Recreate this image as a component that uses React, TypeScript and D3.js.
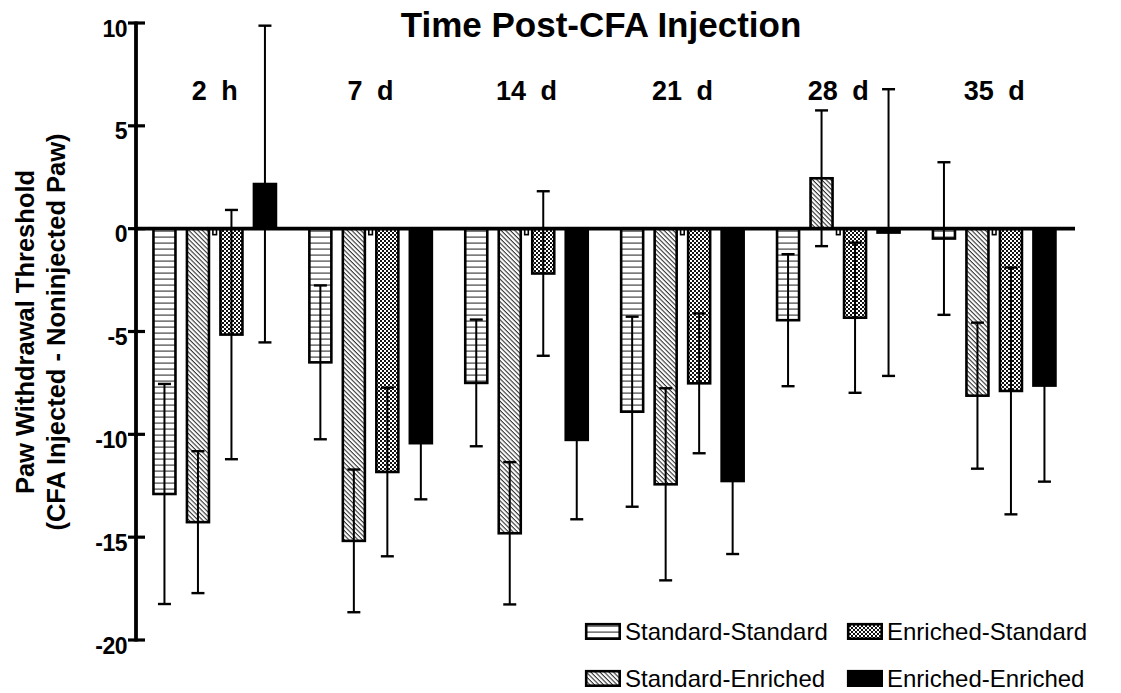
import React, { useEffect, useRef } from 'react';
import * as d3 from 'd3';

// values (threshold difference, mean and SEM)
const timepoints = ['2 h', '7 d', '14 d', '21 d', '28 d', '35 d'];
const groups = ['Standard-Standard', 'Standard-Enriched', 'Enriched-Standard', 'Enriched-Enriched'];
const ssMean = [-12.9, -6.5, -7.5, -8.9, -4.45, -0.48];
const ssErr = [5.35, 3.74, 3.08, 4.62, 3.21, 3.71];
const seMean = [-14.27, -15.18, -14.81, -12.43, 2.45, -8.12];
const seErr = [3.45, 3.47, 3.46, 4.67, 3.3, 3.55];
const esMean = [-5.15, -11.83, -2.18, -7.52, -4.33, -7.89];
const esErr = [6.06, 4.1, 4.0, 3.4, 3.65, 6.0];
const eeMean = [2.17, -10.43, -10.27, -12.27, -0.19, -7.63];
const eeErr = [7.7, 2.73, 3.86, 3.55, 6.97, 4.67];
const yTicks = [10, 5, 0, -5, -10, -15, -20];

const means = [ssMean, seMean, esMean, eeMean];
const errs = [ssErr, seErr, esErr, eeErr];
const fills = ['url(#hlines)', 'url(#diag)', 'url(#checker)', '#000'];

const FONT = '"Liberation Sans", Arial, Helvetica, sans-serif';

const App = () => {
    const svgRef = useRef<SVGSVGElement>(null);

    useEffect(() => {
        const width = 1121;
        const height = 693;

        const svg = d3.select(svgRef.current);
        svg.selectAll('*').remove();
        svg.attr('width', width).attr('height', height);

        // patterns
        const defs = svg.append('defs');
        const hl = defs.append('pattern')
            .attr('id', 'hlines')
            .attr('patternUnits', 'userSpaceOnUse')
            .attr('width', 6).attr('height', 6);
        hl.append('rect').attr('width', 6).attr('height', 6).attr('fill', '#fff');
        hl.append('rect').attr('y', 2.5).attr('width', 6).attr('height', 1.2).attr('fill', '#444');

        const dg = defs.append('pattern')
            .attr('id', 'diag')
            .attr('patternUnits', 'userSpaceOnUse')
            .attr('width', 6).attr('height', 3.2)
            .attr('patternTransform', 'rotate(45)');
        dg.append('rect').attr('width', 6).attr('height', 3.2).attr('fill', '#fff');
        dg.append('rect').attr('width', 6).attr('height', 1.1).attr('fill', '#333');

        const ck = defs.append('pattern')
            .attr('id', 'checker')
            .attr('patternUnits', 'userSpaceOnUse')
            .attr('width', 4).attr('height', 4);
        ck.append('rect').attr('width', 4).attr('height', 4).attr('fill', '#fff');
        ck.append('rect').attr('width', 2).attr('height', 2).attr('fill', '#111');
        ck.append('rect').attr('x', 2).attr('y', 2).attr('width', 2).attr('height', 2).attr('fill', '#111');

        const y = d3.scaleLinear().domain([-20, 10]).range([640, 23]);
        const x0 = d3.scaleBand().domain(timepoints).range([136.75, 1072.15]).padding(0);
        const x1 = d3.scaleBand().domain(groups).range([16.7, 139.2]).paddingInner(0.343).paddingOuter(0);
        const axisX = 136;

        const rows = timepoints.flatMap((t, i) => groups.map((g, k) => ({
            t, g, k, mean: means[k][i], err: errs[k][i],
        })));

        // bars
        svg.append('g').selectAll('rect')
            .data(rows)
            .enter().append('rect')
            .attr('x', d => x0(d.t)! + x1(d.g)!)
            .attr('y', d => Math.min(y(d.mean), y(0)))
            .attr('width', x1.bandwidth())
            .attr('height', d => Math.abs(y(d.mean) - y(0)))
            .attr('fill', d => fills[d.k])
            .attr('stroke', '#000')
            .attr('stroke-width', 2.6);

        // small tab hanging under the baseline between 2nd and 3rd bar
        svg.append('g').selectAll('rect')
            .data(timepoints)
            .enter().append('rect')
            .attr('x', t => (x0(t)! + x1(groups[1])! + x1.bandwidth() + x0(t)! + x1(groups[2])!) / 2 - 1.8)
            .attr('y', y(0))
            .attr('width', 3.6)
            .attr('height', 6)
            .attr('fill', '#fff')
            .attr('stroke', '#000')
            .attr('stroke-width', 1.6);

        // zero line
        svg.append('line')
            .attr('x1', axisX).attr('x2', 1075)
            .attr('y1', y(0)).attr('y2', y(0))
            .attr('stroke', '#000').attr('stroke-width', 3.6);

        // error bars
        const eb = svg.append('g').selectAll('g')
            .data(rows)
            .enter().append('g')
            .attr('transform', d => `translate(${x0(d.t)! + x1(d.g)! + x1.bandwidth() / 2},0)`);
        eb.append('line')
            .attr('y1', d => y(d.mean + d.err))
            .attr('y2', d => y(d.mean - d.err))
            .attr('stroke', '#000').attr('stroke-width', 2);
        eb.append('line')
            .attr('x1', -6.5).attr('x2', 6.5)
            .attr('y1', d => y(d.mean + d.err)).attr('y2', d => y(d.mean + d.err))
            .attr('stroke', '#000').attr('stroke-width', 2.4);
        eb.append('line')
            .attr('x1', -6.5).attr('x2', 6.5)
            .attr('y1', d => y(d.mean - d.err)).attr('y2', d => y(d.mean - d.err))
            .attr('stroke', '#000').attr('stroke-width', 2.4);

        // y axis
        const ax = svg.append('g');
        ax.append('line')
            .attr('x1', axisX).attr('x2', axisX)
            .attr('y1', y(10) - 1.5).attr('y2', y(-20) + 1.5)
            .attr('stroke', '#000').attr('stroke-width', 3.8);
        ax.selectAll('.tick')
            .data(yTicks)
            .enter().append('line')
            .attr('class', 'tick')
            .attr('x1', axisX - 8).attr('x2', axisX + 9)
            .attr('y1', d => y(d)).attr('y2', d => y(d))
            .attr('stroke', '#000').attr('stroke-width', 3.2);
        ax.selectAll('.lbl')
            .data(yTicks)
            .enter().append('text')
            .attr('class', 'lbl')
            .attr('x', axisX - 9)
            .attr('y', d => y(d) + 13.5)
            .attr('text-anchor', 'end')
            .attr('font-family', FONT)
            .attr('font-weight', 'bold')
            .attr('font-size', 23)
            .attr('letter-spacing', -0.5)
            .text(d => d);

        // y title
        const yt = svg.append('g')
            .attr('font-family', FONT)
            .attr('font-weight', 'bold')
            .attr('font-size', 25.5)
            .attr('text-anchor', 'middle');
        yt.append('text')
            .attr('transform', 'translate(33.5,332) rotate(-90)')
            .text('Paw Withdrawal Threshold');
        yt.append('text')
            .attr('transform', 'translate(65,332) rotate(-90)')
            .text('(CFA Injected - Noninjected Paw)');

        // title and time labels
        svg.append('text')
            .attr('x', 601).attr('y', 37)
            .attr('text-anchor', 'middle')
            .attr('font-family', FONT)
            .attr('font-weight', 'bold')
            .attr('font-size', 35)
            .text('Time Post-CFA Injection');

        svg.append('g').selectAll('text')
            .data(timepoints)
            .enter().append('text')
            .attr('x', t => x0(t)! + x0.bandwidth() / 2)
            .attr('y', 100)
            .attr('text-anchor', 'middle')
            .attr('font-family', FONT)
            .attr('font-weight', 'bold')
            .attr('font-size', 27)
            .attr('word-spacing', 7)
            .text(t => t);

        // legend: column-major, 2 x 2
        const legendOrder = [0, 2, 1, 3];
        const colX = [585, 847];
        const rowY = [623, 670];
        const lg = svg.append('g').selectAll('g')
            .data(legendOrder)
            .enter().append('g')
            .attr('transform', (k, i) => `translate(${colX[i % 2]},${rowY[Math.floor(i / 2)]})`);
        lg.append('rect')
            .attr('x', 1.2).attr('y', 1.2)
            .attr('width', 33.5).attr('height', 14.5)
            .attr('fill', k => fills[k])
            .attr('stroke', '#000')
            .attr('stroke-width', 2.6);
        lg.append('text')
            .attr('x', 40)
            .attr('y', 16.5)
            .attr('font-family', FONT)
            .attr('font-size', 24)
            .text(k => groups[k]);
    }, []);

    return (
        <svg ref={svgRef} style={{ position: 'absolute', left: 0, top: 0, background: '#fff' }}></svg>
    );
};

export default App;
